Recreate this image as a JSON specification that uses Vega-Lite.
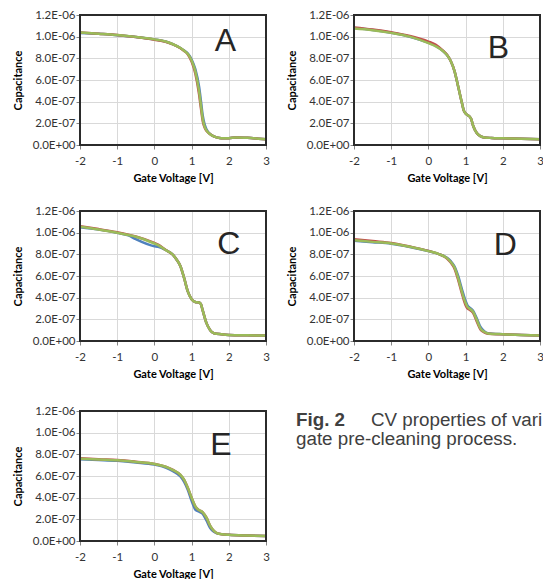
{
  "$schema": "https://vega.github.io/schema/vega-lite/v6.json",
  "padding": {"left": 12, "top": 9, "right": 0, "bottom": 0},
  "background": "white",
  "config": {
    "view": {"stroke": null},
    "axis": {
      "grid": true, "gridColor": "#d9d9d9", "gridWidth": 1,
      "domain": false, "tickColor": "#868686", "tickSize": 4, "tickWidth": 1,
      "labelFont": "Lato", "labelFontSize": 11.5, "labelColor": "#333333", "labelOverlap": false, "labelBound": false, "labelFlush": false,
      "titleFont": "Lato", "titleFontSize": 11, "titleFontWeight": "bold", "titleColor": "#000000"
    },
    "axisX": {"values": [-2, -1, 0, 1, 2, 3], "labelExpr": "'' + datum.value", "labelPadding": 6, "titlePadding": 5, "minExtent": 22, "maxExtent": 22},
    "axisY": {"values": [0, 0.2, 0.4, 0.6, 0.8, 1.0, 1.2], "labelExpr": "replace(replace(format(datum.value*1e-6,'.1e'),'e-','E-0'),'e+','E+0')", "labelPadding": 1, "titlePadding": 8.5, "minExtent": 48, "maxExtent": 48}
  },
  "datasets": {
    "frame": [{"f": 1}],
    "cv": [
      {"p":"A","v":-2,"b":1.035,"r":1.04,"g":1.04},
      {"p":"A","v":-1.5,"b":1.026,"r":1.028,"g":1.028},
      {"p":"A","v":-1,"b":1.013,"r":1.015,"g":1.015},
      {"p":"A","v":-0.5,"b":0.997,"r":0.996,"g":0.998},
      {"p":"A","v":0,"b":0.975,"r":0.972,"g":0.975},
      {"p":"A","v":0.3,"b":0.955,"r":0.953,"g":0.955},
      {"p":"A","v":0.5,"b":0.93,"r":0.928,"g":0.93},
      {"p":"A","v":0.7,"b":0.896,"r":0.893,"g":0.895},
      {"p":"A","v":0.8,"b":0.872,"r":0.868,"g":0.87},
      {"p":"A","v":0.9,"b":0.845,"r":0.835,"g":0.84},
      {"p":"A","v":1.0,"b":0.79,"r":0.77,"g":0.78},
      {"p":"A","v":1.1,"b":0.70,"r":0.66,"g":0.68},
      {"p":"A","v":1.2,"b":0.54,"r":0.47,"g":0.50},
      {"p":"A","v":1.25,"b":0.41,"r":0.34,"g":0.37},
      {"p":"A","v":1.3,"b":0.27,"r":0.22,"g":0.24},
      {"p":"A","v":1.35,"b":0.19,"r":0.16,"g":0.17},
      {"p":"A","v":1.4,"b":0.145,"r":0.13,"g":0.135},
      {"p":"A","v":1.5,"b":0.10,"r":0.10,"g":0.10},
      {"p":"A","v":1.6,"b":0.08,"r":0.08,"g":0.08},
      {"p":"A","v":1.7,"b":0.068,"r":0.068,"g":0.068},
      {"p":"A","v":1.8,"b":0.063,"r":0.063,"g":0.063},
      {"p":"A","v":2.0,"b":0.062,"r":0.062,"g":0.062},
      {"p":"A","v":2.2,"b":0.07,"r":0.07,"g":0.07},
      {"p":"A","v":2.5,"b":0.066,"r":0.066,"g":0.066},
      {"p":"A","v":2.8,"b":0.058,"r":0.058,"g":0.058},
      {"p":"A","v":3.0,"b":0.052,"r":0.052,"g":0.052},

      {"p":"B","v":-2,"b":1.08,"r":1.085,"g":1.075},
      {"p":"B","v":-1.5,"b":1.062,"r":1.066,"g":1.06},
      {"p":"B","v":-1,"b":1.036,"r":1.04,"g":1.035},
      {"p":"B","v":-0.5,"b":1.0,"r":1.006,"g":1.0},
      {"p":"B","v":0,"b":0.945,"r":0.955,"g":0.94},
      {"p":"B","v":0.2,"b":0.915,"r":0.925,"g":0.91},
      {"p":"B","v":0.4,"b":0.865,"r":0.868,"g":0.865},
      {"p":"B","v":0.5,"b":0.83,"r":0.832,"g":0.83},
      {"p":"B","v":0.6,"b":0.775,"r":0.775,"g":0.775},
      {"p":"B","v":0.7,"b":0.685,"r":0.685,"g":0.685},
      {"p":"B","v":0.8,"b":0.54,"r":0.54,"g":0.54},
      {"p":"B","v":0.9,"b":0.39,"r":0.39,"g":0.39},
      {"p":"B","v":0.95,"b":0.32,"r":0.32,"g":0.32},
      {"p":"B","v":1.0,"b":0.29,"r":0.29,"g":0.29},
      {"p":"B","v":1.1,"b":0.265,"r":0.265,"g":0.265},
      {"p":"B","v":1.15,"b":0.24,"r":0.24,"g":0.24},
      {"p":"B","v":1.2,"b":0.18,"r":0.18,"g":0.18},
      {"p":"B","v":1.3,"b":0.11,"r":0.11,"g":0.11},
      {"p":"B","v":1.4,"b":0.082,"r":0.082,"g":0.082},
      {"p":"B","v":1.5,"b":0.07,"r":0.07,"g":0.07},
      {"p":"B","v":1.7,"b":0.065,"r":0.065,"g":0.065},
      {"p":"B","v":2.0,"b":0.062,"r":0.062,"g":0.062},
      {"p":"B","v":2.5,"b":0.058,"r":0.058,"g":0.058},
      {"p":"B","v":3.0,"b":0.052,"r":0.052,"g":0.052},

      {"p":"C","v":-2,"b":1.05,"r":1.06,"g":1.055},
      {"p":"C","v":-1.5,"b":1.028,"r":1.033,"g":1.03},
      {"p":"C","v":-1,"b":0.998,"r":1.003,"g":1.0},
      {"p":"C","v":-0.7,"b":0.975,"r":0.982,"g":0.978},
      {"p":"C","v":-0.5,"b":0.94,"r":0.965,"g":0.963},
      {"p":"C","v":0,"b":0.875,"r":0.905,"g":0.90},
      {"p":"C","v":0.1,"b":0.87,"r":0.89,"g":0.885},
      {"p":"C","v":0.3,"b":0.84,"r":0.842,"g":0.84},
      {"p":"C","v":0.5,"b":0.795,"r":0.795,"g":0.795},
      {"p":"C","v":0.6,"b":0.75,"r":0.75,"g":0.75},
      {"p":"C","v":0.7,"b":0.69,"r":0.69,"g":0.69},
      {"p":"C","v":0.8,"b":0.58,"r":0.58,"g":0.58},
      {"p":"C","v":0.9,"b":0.455,"r":0.455,"g":0.455},
      {"p":"C","v":1.0,"b":0.385,"r":0.385,"g":0.385},
      {"p":"C","v":1.1,"b":0.36,"r":0.36,"g":0.36},
      {"p":"C","v":1.2,"b":0.355,"r":0.355,"g":0.355},
      {"p":"C","v":1.25,"b":0.34,"r":0.34,"g":0.34},
      {"p":"C","v":1.3,"b":0.28,"r":0.28,"g":0.28},
      {"p":"C","v":1.4,"b":0.165,"r":0.165,"g":0.165},
      {"p":"C","v":1.5,"b":0.10,"r":0.10,"g":0.10},
      {"p":"C","v":1.6,"b":0.072,"r":0.072,"g":0.072},
      {"p":"C","v":1.8,"b":0.062,"r":0.062,"g":0.062},
      {"p":"C","v":2.0,"b":0.056,"r":0.056,"g":0.056},
      {"p":"C","v":2.5,"b":0.052,"r":0.052,"g":0.052},
      {"p":"C","v":3.0,"b":0.05,"r":0.05,"g":0.05},

      {"p":"D","v":-2,"b":0.925,"r":0.94,"g":0.93},
      {"p":"D","v":-1.5,"b":0.912,"r":0.922,"g":0.915},
      {"p":"D","v":-1,"b":0.898,"r":0.905,"g":0.90},
      {"p":"D","v":-0.5,"b":0.868,"r":0.872,"g":0.87},
      {"p":"D","v":0,"b":0.83,"r":0.832,"g":0.83},
      {"p":"D","v":0.3,"b":0.80,"r":0.80,"g":0.80},
      {"p":"D","v":0.5,"b":0.768,"r":0.762,"g":0.765},
      {"p":"D","v":0.6,"b":0.737,"r":0.725,"g":0.73},
      {"p":"D","v":0.7,"b":0.69,"r":0.67,"g":0.68},
      {"p":"D","v":0.8,"b":0.60,"r":0.565,"g":0.58},
      {"p":"D","v":0.9,"b":0.48,"r":0.44,"g":0.455},
      {"p":"D","v":1.0,"b":0.37,"r":0.33,"g":0.35},
      {"p":"D","v":1.05,"b":0.33,"r":0.30,"g":0.315},
      {"p":"D","v":1.1,"b":0.31,"r":0.29,"g":0.30},
      {"p":"D","v":1.2,"b":0.28,"r":0.26,"g":0.27},
      {"p":"D","v":1.3,"b":0.21,"r":0.18,"g":0.195},
      {"p":"D","v":1.4,"b":0.13,"r":0.105,"g":0.115},
      {"p":"D","v":1.5,"b":0.09,"r":0.08,"g":0.085},
      {"p":"D","v":1.6,"b":0.072,"r":0.068,"g":0.07},
      {"p":"D","v":2.0,"b":0.062,"r":0.062,"g":0.062},
      {"p":"D","v":2.5,"b":0.056,"r":0.056,"g":0.056},
      {"p":"D","v":3.0,"b":0.05,"r":0.05,"g":0.05},

      {"p":"E","v":-2,"b":0.755,"r":0.765,"g":0.76},
      {"p":"E","v":-1.5,"b":0.748,"r":0.755,"g":0.752},
      {"p":"E","v":-1,"b":0.74,"r":0.748,"g":0.745},
      {"p":"E","v":-0.5,"b":0.725,"r":0.732,"g":0.73},
      {"p":"E","v":0,"b":0.705,"r":0.712,"g":0.71},
      {"p":"E","v":0.3,"b":0.678,"r":0.686,"g":0.685},
      {"p":"E","v":0.5,"b":0.645,"r":0.656,"g":0.655},
      {"p":"E","v":0.7,"b":0.595,"r":0.61,"g":0.61},
      {"p":"E","v":0.8,"b":0.545,"r":0.565,"g":0.565},
      {"p":"E","v":0.9,"b":0.47,"r":0.49,"g":0.49},
      {"p":"E","v":1.0,"b":0.37,"r":0.40,"g":0.40},
      {"p":"E","v":1.1,"b":0.29,"r":0.32,"g":0.32},
      {"p":"E","v":1.2,"b":0.27,"r":0.285,"g":0.285},
      {"p":"E","v":1.3,"b":0.25,"r":0.265,"g":0.265},
      {"p":"E","v":1.4,"b":0.19,"r":0.215,"g":0.215},
      {"p":"E","v":1.5,"b":0.12,"r":0.14,"g":0.14},
      {"p":"E","v":1.6,"b":0.085,"r":0.093,"g":0.093},
      {"p":"E","v":1.7,"b":0.068,"r":0.07,"g":0.07},
      {"p":"E","v":2.0,"b":0.057,"r":0.057,"g":0.057},
      {"p":"E","v":2.5,"b":0.05,"r":0.05,"g":0.05},
      {"p":"E","v":3.0,"b":0.046,"r":0.046,"g":0.046}
    ]
  },
  "vconcat": [
    {
      "hconcat": [
        {
          "width": 186, "height": 130,
          "layer": [
            {"data": {"name": "cv"},
             "transform": [{"filter": "datum.p == 'A'"}, {"fold": ["b", "r", "g"], "as": ["s", "c"]}],
             "mark": {"type": "line", "interpolate": "monotone", "clip": true},
             "encoding": {
               "x": {"field": "v", "type": "quantitative", "scale": {"domain": [-2, 3], "nice": false}, "axis": {"title": "Gate Voltage [V]"}},
               "y": {"field": "c", "type": "quantitative", "scale": {"domain": [0, 1.2], "nice": false}, "axis": {"title": "Capacitance"}},
               "color": {"field": "s", "type": "nominal", "scale": {"domain": ["b", "r", "g"], "range": ["#4f81bd", "#c0504d", "#9bbb59"]}, "legend": null},
               "strokeWidth": {"field": "s", "type": "nominal", "scale": {"domain": ["b", "r", "g"], "range": [2.5, 2.5, 3]}, "legend": null}
             }},
            {"data": {"name": "frame"},
             "mark": {"type": "rect", "filled": false, "stroke": "#2b2b2b", "strokeWidth": 2},
             "encoding": {"x": {"datum": -2}, "x2": {"datum": 3}, "y": {"datum": 0}, "y2": {"datum": 1.2}}},
            {"data": {"values": [{"label": "A"}]},
             "mark": {"type": "text", "font": "Liberation Sans", "fontSize": 32, "color": "#262626", "baseline": "alphabetic", "align": "center"},
             "encoding": {"x": {"datum": 1.91}, "y": {"datum": 0.87}, "text": {"field": "label"}}}
          ]
        },
        {
          "width": 186, "height": 130,
          "layer": [
            {"data": {"name": "cv"},
             "transform": [{"filter": "datum.p == 'B'"}, {"fold": ["b", "r", "g"], "as": ["s", "c"]}],
             "mark": {"type": "line", "interpolate": "monotone", "clip": true},
             "encoding": {
               "x": {"field": "v", "type": "quantitative", "scale": {"domain": [-2, 3], "nice": false}, "axis": {"title": "Gate Voltage [V]"}},
               "y": {"field": "c", "type": "quantitative", "scale": {"domain": [0, 1.2], "nice": false}, "axis": {"title": "Capacitance"}},
               "color": {"field": "s", "type": "nominal", "scale": {"domain": ["b", "r", "g"], "range": ["#4f81bd", "#c0504d", "#9bbb59"]}, "legend": null},
               "strokeWidth": {"field": "s", "type": "nominal", "scale": {"domain": ["b", "r", "g"], "range": [2.5, 2.5, 3]}, "legend": null}
             }},
            {"data": {"name": "frame"},
             "mark": {"type": "rect", "filled": false, "stroke": "#2b2b2b", "strokeWidth": 2},
             "encoding": {"x": {"datum": -2}, "x2": {"datum": 3}, "y": {"datum": 0}, "y2": {"datum": 1.2}}},
            {"data": {"values": [{"label": "B"}]},
             "mark": {"type": "text", "font": "Liberation Sans", "fontSize": 32, "color": "#262626", "baseline": "alphabetic", "align": "center"},
             "encoding": {"x": {"datum": 1.88}, "y": {"datum": 0.8}, "text": {"field": "label"}}}
          ]
        }
      ],
      "spacing": 16
    },
    {
      "vconcat": [
        {
          "hconcat": [
            {
              "width": 186, "height": 130,
              "layer": [
                {"data": {"name": "cv"},
                 "transform": [{"filter": "datum.p == 'C'"}, {"fold": ["b", "r", "g"], "as": ["s", "c"]}],
                 "mark": {"type": "line", "interpolate": "monotone", "clip": true},
                 "encoding": {
                   "x": {"field": "v", "type": "quantitative", "scale": {"domain": [-2, 3], "nice": false}, "axis": {"title": "Gate Voltage [V]"}},
                   "y": {"field": "c", "type": "quantitative", "scale": {"domain": [0, 1.2], "nice": false}, "axis": {"title": "Capacitance"}},
                   "color": {"field": "s", "type": "nominal", "scale": {"domain": ["b", "r", "g"], "range": ["#4f81bd", "#c0504d", "#9bbb59"]}, "legend": null},
                   "strokeWidth": {"field": "s", "type": "nominal", "scale": {"domain": ["b", "r", "g"], "range": [2.5, 2.5, 3]}, "legend": null}
                 }},
                {"data": {"name": "frame"},
                 "mark": {"type": "rect", "filled": false, "stroke": "#2b2b2b", "strokeWidth": 2},
                 "encoding": {"x": {"datum": -2}, "x2": {"datum": 3}, "y": {"datum": 0}, "y2": {"datum": 1.2}}},
                {"data": {"values": [{"label": "C"}]},
                 "mark": {"type": "text", "font": "Liberation Sans", "fontSize": 32, "color": "#262626", "baseline": "alphabetic", "align": "center"},
                 "encoding": {"x": {"datum": 2.0}, "y": {"datum": 0.8}, "text": {"field": "label"}}}
              ]
            },
            {
              "width": 186, "height": 130,
              "layer": [
                {"data": {"name": "cv"},
                 "transform": [{"filter": "datum.p == 'D'"}, {"fold": ["b", "r", "g"], "as": ["s", "c"]}],
                 "mark": {"type": "line", "interpolate": "monotone", "clip": true},
                 "encoding": {
                   "x": {"field": "v", "type": "quantitative", "scale": {"domain": [-2, 3], "nice": false}, "axis": {"title": "Gate Voltage [V]"}},
                   "y": {"field": "c", "type": "quantitative", "scale": {"domain": [0, 1.2], "nice": false}, "axis": {"title": "Capacitance"}},
                   "color": {"field": "s", "type": "nominal", "scale": {"domain": ["b", "r", "g"], "range": ["#4f81bd", "#c0504d", "#9bbb59"]}, "legend": null},
                   "strokeWidth": {"field": "s", "type": "nominal", "scale": {"domain": ["b", "r", "g"], "range": [2.5, 2.5, 3]}, "legend": null}
                 }},
                {"data": {"name": "frame"},
                 "mark": {"type": "rect", "filled": false, "stroke": "#2b2b2b", "strokeWidth": 2},
                 "encoding": {"x": {"datum": -2}, "x2": {"datum": 3}, "y": {"datum": 0}, "y2": {"datum": 1.2}}},
                {"data": {"values": [{"label": "D"}]},
                 "mark": {"type": "text", "font": "Liberation Sans", "fontSize": 32, "color": "#262626", "baseline": "alphabetic", "align": "center"},
                 "encoding": {"x": {"datum": 2.07}, "y": {"datum": 0.79}, "text": {"field": "label"}}}
              ]
            }
          ],
          "spacing": 16
        },
        {
          "hconcat": [
            {
              "width": 186, "height": 130,
              "layer": [
                {"data": {"name": "cv"},
                 "transform": [{"filter": "datum.p == 'E'"}, {"fold": ["b", "r", "g"], "as": ["s", "c"]}],
                 "mark": {"type": "line", "interpolate": "monotone", "clip": true},
                 "encoding": {
                   "x": {"field": "v", "type": "quantitative", "scale": {"domain": [-2, 3], "nice": false}, "axis": {"title": "Gate Voltage [V]"}},
                   "y": {"field": "c", "type": "quantitative", "scale": {"domain": [0, 1.2], "nice": false}, "axis": {"title": "Capacitance"}},
                   "color": {"field": "s", "type": "nominal", "scale": {"domain": ["b", "r", "g"], "range": ["#4f81bd", "#c0504d", "#9bbb59"]}, "legend": null},
                   "strokeWidth": {"field": "s", "type": "nominal", "scale": {"domain": ["b", "r", "g"], "range": [2.5, 2.5, 3]}, "legend": null}
                 }},
                {"data": {"name": "frame"},
                 "mark": {"type": "rect", "filled": false, "stroke": "#2b2b2b", "strokeWidth": 2},
                 "encoding": {"x": {"datum": -2}, "x2": {"datum": 3}, "y": {"datum": 0}, "y2": {"datum": 1.2}}},
                {"data": {"values": [{"label": "E"}]},
                 "mark": {"type": "text", "font": "Liberation Sans", "fontSize": 32, "color": "#262626", "baseline": "alphabetic", "align": "center"},
                 "encoding": {"x": {"datum": 1.79}, "y": {"datum": 0.79}, "text": {"field": "label"}}}
              ]
            },
            {
              "width": 250, "height": 50,
              "data": {"values": [{"t1": "Fig. 2", "t2": "CV properties of various", "t3": "gate pre-cleaning process."}]},
              "layer": [
                {"mark": {"type": "text", "font": "Liberation Sans", "fontSize": 18.8, "fontWeight": "bold", "color": "#404040", "align": "left", "baseline": "alphabetic"},
                 "encoding": {"text": {"field": "t1"},
                   "x": {"datum": 10, "scale": {"domain": [0, 250], "nice": false, "zero": false}, "axis": null},
                   "y": {"datum": 15, "scale": {"domain": [0, 50], "nice": false, "reverse": true}, "axis": null}}},
                {"mark": {"type": "text", "font": "Liberation Sans", "fontSize": 18.8, "color": "#404040", "align": "left", "baseline": "alphabetic", "limit": 176, "ellipsis": "\u200b"},
                 "encoding": {"text": {"field": "t2"}, "x": {"datum": 85}, "y": {"datum": 15}}},
                {"mark": {"type": "text", "font": "Liberation Sans", "fontSize": 18.8, "color": "#404040", "align": "left", "baseline": "alphabetic"},
                 "encoding": {"text": {"field": "t3"}, "x": {"datum": 10}, "y": {"datum": 34}}}
              ]
            }
          ],
          "spacing": 16
        }
      ],
      "spacing": 26
    }
  ],
  "spacing": 22
}
